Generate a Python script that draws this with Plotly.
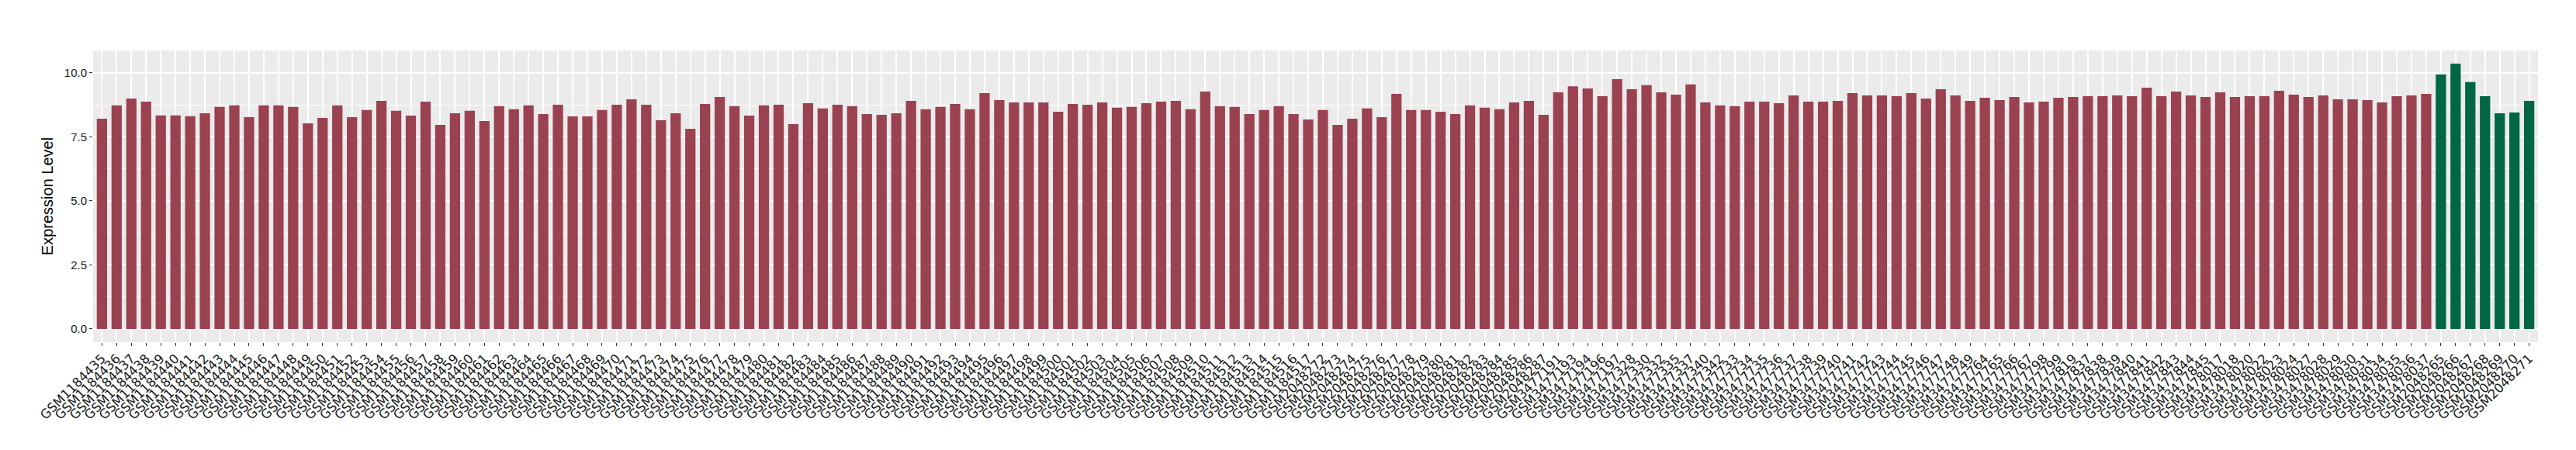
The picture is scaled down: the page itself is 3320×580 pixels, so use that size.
import plotly.graph_objects as go

# Sample ids and expression levels, group 1 (maroon)
group1_samples = [
    "GSM1184435", "GSM1184436", "GSM1184437", "GSM1184438", "GSM1184439", "GSM1184440",
    "GSM1184441", "GSM1184442", "GSM1184443", "GSM1184444", "GSM1184445", "GSM1184446",
    "GSM1184447", "GSM1184448", "GSM1184449", "GSM1184450", "GSM1184451", "GSM1184452",
    "GSM1184453", "GSM1184454", "GSM1184455", "GSM1184456", "GSM1184457", "GSM1184458",
    "GSM1184459", "GSM1184460", "GSM1184461", "GSM1184462", "GSM1184463", "GSM1184464",
    "GSM1184465", "GSM1184466", "GSM1184467", "GSM1184468", "GSM1184469", "GSM1184470",
    "GSM1184471", "GSM1184472", "GSM1184473", "GSM1184474", "GSM1184475", "GSM1184476",
    "GSM1184477", "GSM1184478", "GSM1184479", "GSM1184480", "GSM1184481", "GSM1184482",
    "GSM1184483", "GSM1184484", "GSM1184485", "GSM1184486", "GSM1184487", "GSM1184488",
    "GSM1184489", "GSM1184490", "GSM1184491", "GSM1184492", "GSM1184493", "GSM1184494",
    "GSM1184495", "GSM1184496", "GSM1184497", "GSM1184498", "GSM1184499", "GSM1184500",
    "GSM1184501", "GSM1184502", "GSM1184503", "GSM1184504", "GSM1184505", "GSM1184506",
    "GSM1184507", "GSM1184508", "GSM1184509", "GSM1184510", "GSM1184511", "GSM1184512",
    "GSM1184513", "GSM1184514", "GSM1184515", "GSM1184516", "GSM1184517",
    "GSM2048272", "GSM2048273", "GSM2048274", "GSM2048275", "GSM2048276", "GSM2048277",
    "GSM2048278", "GSM2048279", "GSM2048280", "GSM2048281", "GSM2048282", "GSM2048283",
    "GSM2048284", "GSM2048285", "GSM2048286", "GSM2048287",
    "GSM3477191", "GSM3477193", "GSM3477194", "GSM3477196", "GSM3477197", "GSM3477328",
    "GSM3477330", "GSM3477332", "GSM3477335", "GSM3477337", "GSM3477340", "GSM3477342",
    "GSM3477733", "GSM3477734", "GSM3477735", "GSM3477736", "GSM3477737", "GSM3477738",
    "GSM3477739", "GSM3477740", "GSM3477741", "GSM3477742", "GSM3477743", "GSM3477744",
    "GSM3477745", "GSM3477746", "GSM3477747", "GSM3477748", "GSM3477749", "GSM3477764",
    "GSM3477765", "GSM3477766", "GSM3477767", "GSM3477798", "GSM3477799", "GSM3477819",
    "GSM3477837", "GSM3477838", "GSM3477839", "GSM3477840", "GSM3477841", "GSM3477842",
    "GSM3477843", "GSM3477844", "GSM3477845",
    "GSM3478017", "GSM3478018", "GSM3478020", "GSM3478022", "GSM3478023", "GSM3478024",
    "GSM3478027", "GSM3478028", "GSM3478029", "GSM3478030", "GSM3478031", "GSM3478034",
    "GSM3478035", "GSM3478036", "GSM3478037",
]
group1_values = [
    8.21, 8.73, 9.00, 8.88, 8.34, 8.34, 8.31, 8.42, 8.67, 8.73,
    8.27, 8.73, 8.73, 8.67, 8.03, 8.24, 8.73, 8.27, 8.55, 8.91, 8.52, 8.33, 8.88, 7.97,
    8.42, 8.52, 8.12, 8.70, 8.58, 8.73, 8.39, 8.76, 8.30, 8.30, 8.55, 8.76, 8.97, 8.76,
    8.15, 8.42, 7.82, 8.79, 9.06, 8.70, 8.33, 8.73, 8.76, 8.00, 8.82, 8.61, 8.76, 8.70,
    8.39, 8.36, 8.42, 8.91, 8.58, 8.67, 8.79, 8.58, 9.21, 8.94, 8.85, 8.85, 8.85, 8.48, 8.79,
    8.76, 8.85, 8.64, 8.67, 8.82, 8.88, 8.91, 8.58, 9.27, 8.70, 8.67, 8.39, 8.55, 8.70,
    8.39, 8.18,
    8.55, 7.97, 8.21, 8.61, 8.27, 9.18, 8.55, 8.55, 8.48, 8.39, 8.73, 8.64, 8.58, 8.85, 8.91, 8.36,
    9.24, 9.48, 9.39, 9.09, 9.76, 9.36, 9.52, 9.24, 9.15, 9.55, 8.85, 8.73,
    8.70, 8.88, 8.88, 8.82, 9.12, 8.88, 8.88, 8.91, 9.21, 9.12, 9.12, 9.09,
    9.21, 9.00, 9.36, 9.12, 8.91,
    9.03, 8.94, 9.06, 8.85,
    8.88, 9.03, 9.06,
    9.09, 9.09, 9.12, 9.09, 9.42, 9.09, 9.27, 9.12, 9.06,
    9.24, 9.06, 9.09, 9.09, 9.30, 9.15, 9.06, 9.12, 8.97, 8.97, 8.94, 8.85, 9.09, 9.12, 9.18,
]

# Sample ids and expression levels, group 2 (green)
group2_samples = [
    "GSM2048265", "GSM2048266", "GSM2048267", "GSM2048268",
    "GSM2048269", "GSM2048270", "GSM2048271",
]
group2_values = [9.94, 10.36, 9.64, 9.09, 8.42, 8.45, 8.91]

y_ticks = [0, 2.5, 5, 7.5, 10]
y_tick_labels = ["0.0", "2.5", "5.0", "7.5", "10.0"]

all_samples = group1_samples + group2_samples
n = len(all_samples)
y_max = max(group1_values + group2_values)

fig = go.Figure()
fig.add_trace(go.Bar(x=group1_samples, y=group1_values, width=0.7,
                     marker=dict(color="#9A4250", line=dict(width=0)),
                     showlegend=False))
fig.add_trace(go.Bar(x=group2_samples, y=group2_values, width=0.7,
                     marker=dict(color="#006645", line=dict(width=0)),
                     showlegend=False))

# ggplot-like grey panel
fig.update_layout(
    width=3320, height=580,
    margin=dict(l=112, r=57, t=57, b=147),
    paper_bgcolor="white",
    plot_bgcolor="#EBEBEB",
    barmode="overlay",
    font=dict(family="Liberation Sans, Arial, sans-serif", color="#1a1a1a"),
)

fig.update_xaxes(
    type="category",
    categoryorder="array", categoryarray=all_samples,
    range=[-0.6, n - 1 + 0.6],
    tickmode="array", tickvals=all_samples, ticktext=all_samples,
    tickangle=-45,
    tickfont=dict(family="DejaVu Sans, sans-serif", size=16.5, color="#1a1a1a"),
    ticks="outside", ticklen=4, tickcolor="#333333", tickwidth=1,
    showgrid=True, gridcolor="white", gridwidth=1.5,
    zeroline=False, showline=False, automargin=False,
)

fig.update_yaxes(
    range=[-0.05 * y_max, y_max * 1.05],
    tickmode="array", tickvals=y_ticks, ticktext=y_tick_labels,
    tickfont=dict(size=15, color="#1a1a1a"),
    ticks="outside", ticklen=4, tickcolor="#333333", tickwidth=1,
    showgrid=True, gridcolor="white", gridwidth=1.5,
    minor=dict(tickvals=[1.25, 3.75, 6.25, 8.75], showgrid=True,
               gridcolor="white", gridwidth=0.8, ticks=""),
    zeroline=False, showline=False, automargin=False,
    title=dict(text="Expression Level", font=dict(size=20, color="black"), standoff=8),
)

fig.write_html("out.html")
